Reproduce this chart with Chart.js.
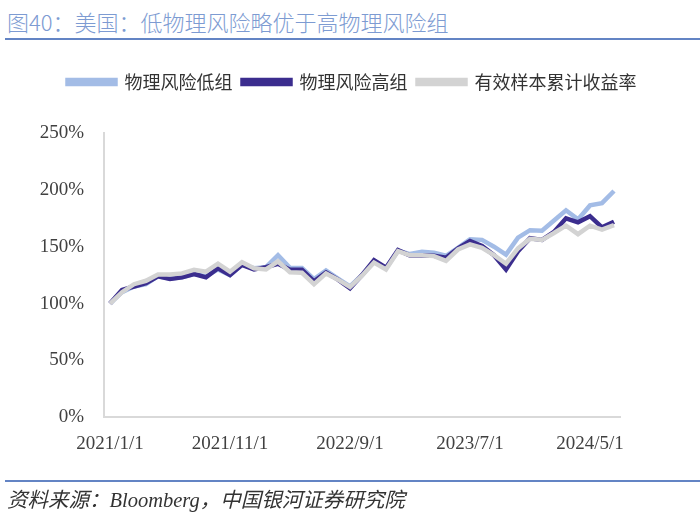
<!DOCTYPE html>
<html>
<head>
<meta charset="utf-8">
<script src="https://cdn.jsdelivr.net/npm/chart.js@4.4.0/dist/chart.umd.min.js"></script>
<style>
  html, body { margin: 0; padding: 0; background: #fff; }
  body { width: 700px; height: 520px; position: relative; overflow: hidden; }
  .title {
    position: absolute; left: 7px; top: 5px;
    font-family: "Noto Sans CJK SC", sans-serif; font-weight: 300;
    font-size: 22px; color: #7d9bd2; white-space: nowrap;
  }
  .rule { position: absolute; left: 5px; right: 0; height: 2px; background: #6384c4; }
  .source {
    position: absolute; left: 7px; top: 483px;
    font-family: "Liberation Serif", "Noto Sans CJK SC", serif; font-style: italic;
    font-size: 20.5px; color: #333; white-space: nowrap;
  }
  #wrap { position: absolute; left: 0; top: 56px; width: 700px; height: 426px; }
</style>
</head>
<body>
<div class="title">图40：美国：低物理风险略优于高物理风险组</div>
<div class="rule" style="top:38px"></div>
<div id="wrap"><canvas id="riskChart"></canvas></div>
<div class="rule" style="top:480px"></div>
<div class="source">资料来源：Bloomberg，中国银河证券研究院</div>

<script>
// monthly points, 2021/1 .. 2024/7
const months = [];
for (let y = 2021; y <= 2024; y++) {
    for (let m = 1; m <= 12; m++) {
        if (y === 2024 && m > 7) break;
        months.push(`${y}/${m}/1`);
    }
}

// cumulative return, %
const lowRisk = [100, 110, 115, 117, 124, 122, 123, 126, 124, 130, 125, 134, 131, 132, 142.5,
    131.5, 131.3, 121.4, 129, 122, 115, 125, 137, 131, 146.5, 143.5, 145.5, 144.6, 142, 149,
    156.5, 156, 150, 143, 158, 164.5, 164, 173, 182, 174, 186.3, 188.3, 199];
const highRisk = [100, 112, 115, 118, 124, 121.5, 123, 126, 123, 131, 125, 134, 130, 132, 135,
    129.7, 129.7, 119.5, 127.4, 121, 113.4, 125, 138, 131.5, 147, 142.3, 142.5, 142, 140.2, 148.5,
    155, 150.6, 142.5, 130, 146, 157.5, 156, 163, 175, 171.4, 176.8, 167, 172];
const sampleReturn = [100, 110, 117, 120, 125.5, 125.5, 126.5, 129.7, 128, 135, 128, 136.3, 131, 130, 137,
    127.5, 127, 117, 126.5, 121, 114.5, 124.5, 136, 130, 146, 142.5, 142.5, 141.7, 137.5, 147.5,
    152, 149, 142.5, 135, 148.5, 157, 156, 162, 168.5, 161, 168.5, 165, 169];

const seriesNames = ['物理风险低组', '物理风险高组', '有效样本累计收益率'];
const seriesColors = ['#a3bce6', '#3b2d8e', '#d3d3d3'];

const labelFont = { family: '"Liberation Serif", serif', size: 19 };

// extra room between legend and plot
const legendGap = {
    id: 'legendGap',
    beforeInit(chart) {
        const fit = chart.legend.fit;
        chart.legend.fit = function () {
            fit.bind(chart.legend)();
            this.height += 32;
        };
    }
};

document.addEventListener('DOMContentLoaded', () => {
    const ctx = document.getElementById('riskChart').getContext('2d');
    const values = [lowRisk, highRisk, sampleReturn];

    new Chart(ctx, {
        type: 'line',
        data: {
            labels: months,
            datasets: values.map((v, i) => ({
                label: seriesNames[i],
                data: v,
                borderColor: seriesColors[i],
                backgroundColor: seriesColors[i],
                borderWidth: 4.5,
                pointRadius: 0,
                tension: 0,
                order: 2 - i
            }))
        },
        options: {
            responsive: true,
            maintainAspectRatio: false,
            animation: false,
            layout: { padding: { left: 11, right: 7, top: 7, bottom: 12 } },
            plugins: {
                legend: {
                    position: 'top',
                    labels: {
                        boxWidth: 48,
                        boxHeight: 4,
                        padding: 10,
                        color: '#333',
                        font: { family: '"Noto Sans CJK SC", sans-serif', size: 18 },
                        sort: (a, b) => a.datasetIndex - b.datasetIndex
                    }
                },
                tooltip: { enabled: false }
            },
            scales: {
                x: {
                    offset: true,
                    grid: { display: false, drawTicks: false },
                    border: { color: '#d9d9d9', width: 2 },
                    ticks: {
                        autoSkip: false,
                        maxRotation: 0,
                        padding: 15,
                        color: '#404040',
                        font: labelFont,
                        callback: (v, i) => (i % 10 === 0 ? months[i] : '')
                    }
                },
                y: {
                    min: 0,
                    max: 250,
                    grid: { display: false, drawTicks: false },
                    border: { color: '#d9d9d9', width: 2 },
                    afterFit: s => { s.width = 93; },
                    ticks: {
                        stepSize: 50,
                        padding: 20,
                        color: '#404040',
                        font: labelFont,
                        callback: v => v + '%'
                    }
                },
                yPad: {
                    position: 'right',
                    grid: { display: false },
                    border: { display: false },
                    ticks: { display: false },
                    afterFit: s => { s.width = 73; }
                }
            }
        },
        plugins: [legendGap]
    });
});
</script>
</body>
</html>
